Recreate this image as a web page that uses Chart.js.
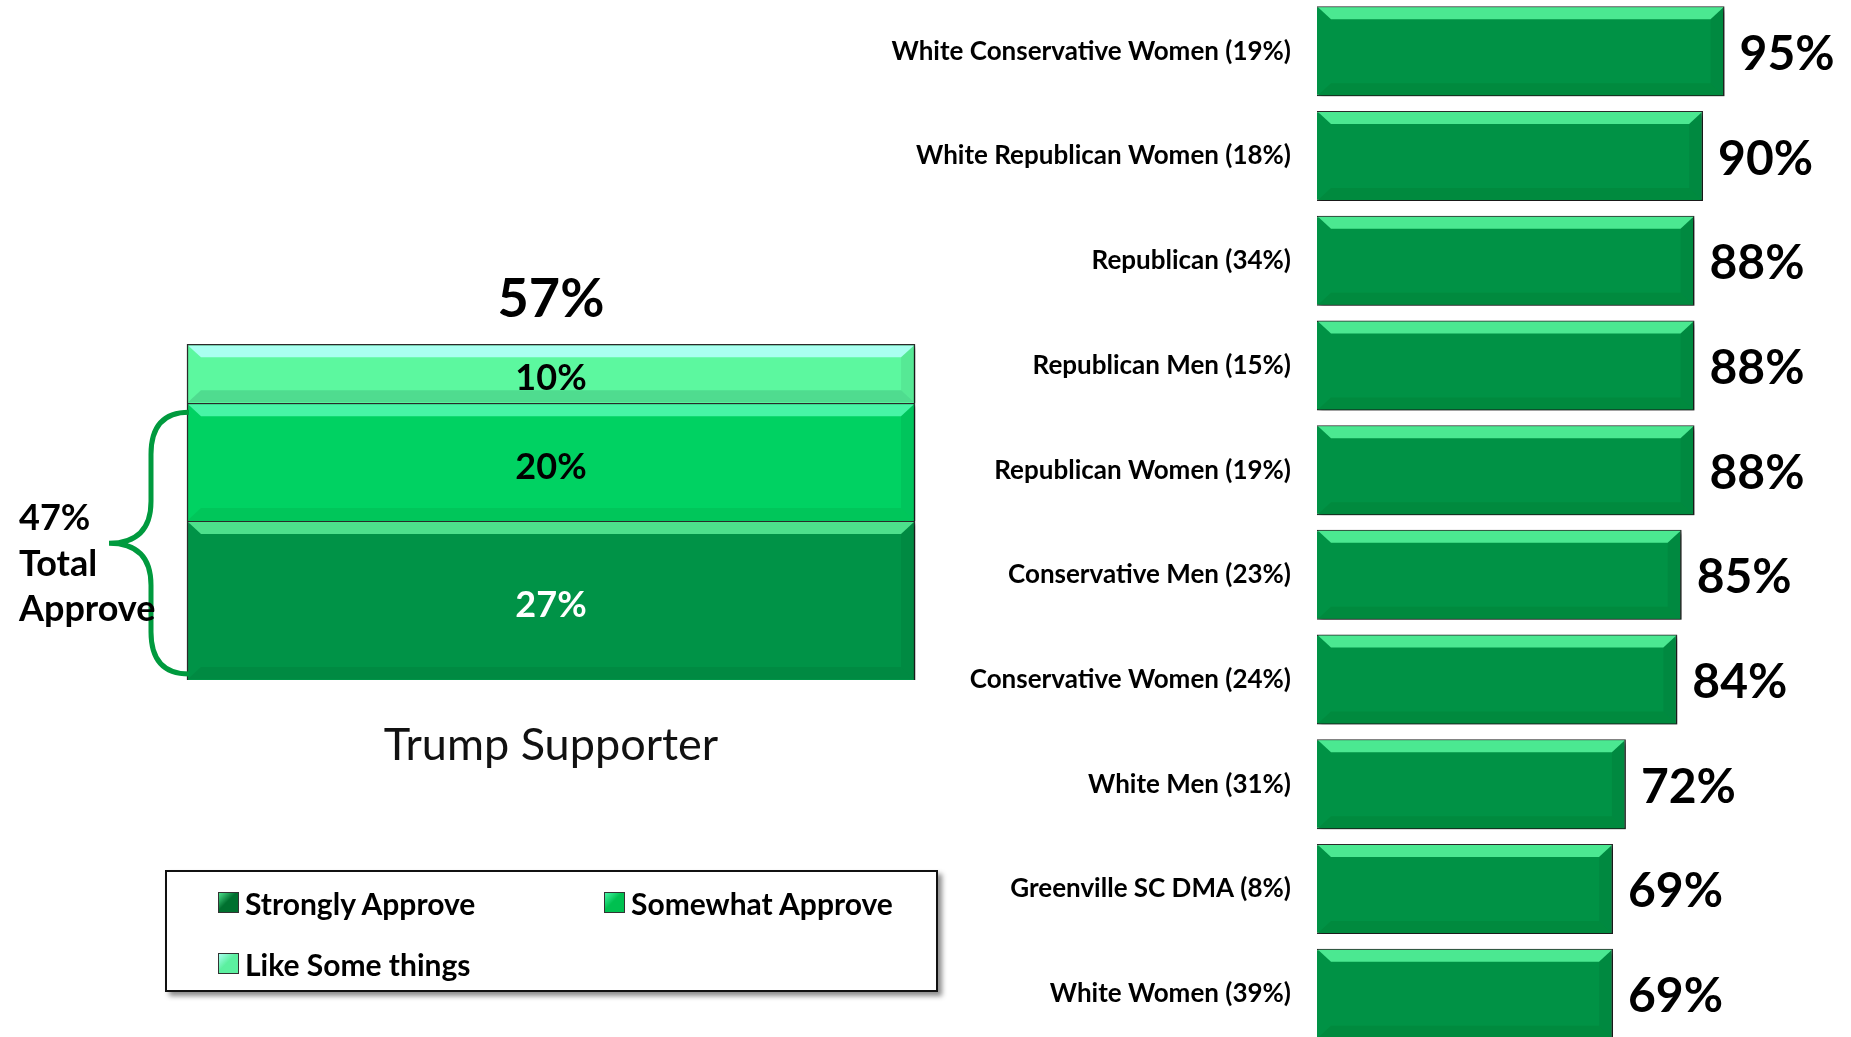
<!DOCTYPE html>
<html>
<head>
<meta charset="utf-8">
<title>Trump Supporter approval</title>
<script src="https://cdn.jsdelivr.net/npm/chart.js@4.4.1/dist/chart.umd.min.js"></script>
<style>
  html, body { margin: 0; padding: 0; width: 1851px; height: 1037px; overflow: hidden; background: #fff; font-family: Lato, sans-serif; }
  #leftWrap { position: absolute; left: 0; top: 209px; width: 950px; height: 601px; }
  #rightWrap { position: absolute; left: 817px; top: -1px; width: 1034px; height: 1047px; }
  #legend {
    position: absolute; left: 165px; top: 870px; width: 773px; height: 122px;
    border: 2px solid #111; box-sizing: border-box; background: #fff;
    box-shadow: 4px 4px 5px rgba(0,0,0,0.45);
    display: grid; grid-template-columns: 386px 340px; grid-auto-rows: 61px;
    padding-left: 51px; align-items: center;
  }
  .item { display: flex; align-items: center; font: bold 30px Lato, sans-serif; color: #000; }
  .box { width: 19px; height: 19px; border: 1px solid #333; margin-right: 6px; }
</style>
</head>
<body>
<div id="leftWrap"><canvas id="leftChart"></canvas></div>
<div id="rightWrap"><canvas id="rightChart"></canvas></div>
<div id="legend"></div>

<script>
// left: stacked bar for Trump supporters
const stackCategory = ['Trump Supporter'];
const stackSeries = ['Strongly Approve', 'Somewhat Approve', 'Like Some things'];
const strongly = [27];
const somewhat = [20];
const likeSome = [10];

// right: approval by group
const groups = [
  'White Conservative Women (19%)',
  'White Republican Women (18%)',
  'Republican (34%)',
  'Republican Men (15%)',
  'Republican Women (19%)',
  'Conservative Men (23%)',
  'Conservative Women (24%)',
  'White Men (31%)',
  'Greenville SC DMA (8%)',
  'White Women (39%)'
];
const groupValues = [95, 90, 88, 88, 88, 85, 84, 72, 69, 69];

const FONT = 'Lato, sans-serif';

function barRect(bar, horizontal) {
  const p = bar.getProps(['x', 'y', 'base', 'width', 'height'], true);
  if (horizontal) {
    return { l: Math.min(p.base, p.x), r: Math.max(p.base, p.x), t: p.y - p.height / 2, b: p.y + p.height / 2 };
  }
  return { l: p.x - p.width / 2, r: p.x + p.width / 2, t: Math.min(p.y, p.base), b: Math.max(p.y, p.base) };
}

// drop shadow + bevel strips on bars
const bevelPlugin = {
  id: 'bevel',
  beforeDatasetsDraw(chart) {
    const ctx = chart.ctx;
    ctx.save();
    ctx.shadowColor = 'rgba(0,0,0,0.45)';
    ctx.shadowOffsetX = 3;
    ctx.shadowOffsetY = 3;
    ctx.shadowBlur = 4;
  },
  afterDatasetsDraw(chart) {
    const ctx = chart.ctx;
    ctx.restore();
    const horizontal = chart.options.indexAxis === 'y';
    chart.data.datasets.forEach((ds, di) => {
      chart.getDatasetMeta(di).data.forEach(bar => {
        const { l, r, t, b } = barRect(bar, horizontal);
        const s = Math.min(13, (b - t) * 0.22);
        ctx.fillStyle = ds.bevelLight;
        ctx.beginPath();
        ctx.moveTo(l + 1, t + 1); ctx.lineTo(r - 1, t + 1);
        ctx.lineTo(r - 1 - s, t + s); ctx.lineTo(l + 1 + s, t + s);
        ctx.closePath(); ctx.fill();
        ctx.fillStyle = ds.bevelDark;
        ctx.beginPath();
        ctx.moveTo(l + 1, b - 1); ctx.lineTo(r - 1, b - 1);
        ctx.lineTo(r - 1 - s, b - s); ctx.lineTo(l + 1 + s, b - s);
        ctx.closePath(); ctx.fill();
        ctx.fillStyle = 'rgba(0,0,0,0.06)';
        ctx.beginPath();
        ctx.moveTo(r - 1, t + 1); ctx.lineTo(r - 1, b - 1);
        ctx.lineTo(r - 1 - s, b - s); ctx.lineTo(r - 1 - s, t + s);
        ctx.closePath(); ctx.fill();
      });
    });
  }
};

const stackLabels = {
  id: 'stackLabels',
  afterDatasetsDraw(chart) {
    const ctx = chart.ctx;
    const yScale = chart.scales.y;
    ctx.save();
    ctx.textAlign = 'center';
    ctx.textBaseline = 'middle';
    chart.data.datasets.forEach((ds, di) => {
      chart.getDatasetMeta(di).data.forEach((bar, i) => {
        const { l, r, t, b } = barRect(bar, false);
        ctx.fillStyle = ds.labelColor;
        ctx.font = 'bold 36px ' + FONT;
        ctx.fillText(ds.data[i] + '%', (l + r) / 2, (t + b) / 2 + 5);
      });
    });
    // total on top
    const total = strongly[0] + somewhat[0] + likeSome[0];
    const top = chart.getDatasetMeta(2).data[0];
    ctx.fillStyle = '#000';
    ctx.font = 'bold 54px ' + FONT;
    ctx.fillText(total + '%', top.x, yScale.getPixelForValue(total) - 45);

    // brace for total approve
    const approve = strongly[0] + somewhat[0];
    const yt = yScale.getPixelForValue(approve) + 9;
    const yb = yScale.getPixelForValue(0) - 6;
    const yc = (yt + yb) / 2;
    const xe = chart.chartArea.left + 2;
    const xm = xe - 38;
    const xt = xe - 80;
    const rr = 42;
    ctx.strokeStyle = '#009a3e';
    ctx.lineWidth = 5;
    ctx.beginPath();
    ctx.moveTo(xe, yt);
    ctx.quadraticCurveTo(xm, yt, xm, yt + rr);
    ctx.lineTo(xm, yc - rr);
    ctx.quadraticCurveTo(xm, yc, xt, yc);
    ctx.quadraticCurveTo(xm, yc, xm, yc + rr);
    ctx.lineTo(xm, yb - rr);
    ctx.quadraticCurveTo(xm, yb, xe, yb);
    ctx.stroke();

    ctx.fillStyle = '#000';
    ctx.textAlign = 'left';
    ctx.font = 'bold 36px ' + FONT;
    ctx.fillText(approve + '%', 19, yc - 25);
    ctx.fillText('Total', 19, yc + 21);
    ctx.fillText('Approve', 19, yc + 66);
    ctx.restore();
  }
};

const valueLabels = {
  id: 'valueLabels',
  afterDatasetsDraw(chart) {
    const ctx = chart.ctx;
    ctx.save();
    ctx.fillStyle = '#000';
    ctx.font = 'bold 48px ' + FONT;
    ctx.textAlign = 'left';
    ctx.textBaseline = 'middle';
    chart.getDatasetMeta(0).data.forEach((bar, i) => {
      const { r, t, b } = barRect(bar, true);
      ctx.fillText(groupValues[i] + '%', r + 15, (t + b) / 2 + 3);
    });
    ctx.restore();
  }
};

const htmlLegend = {
  id: 'htmlLegend',
  afterUpdate(chart) {
    const box = document.getElementById('legend');
    box.innerHTML = '';
    chart.data.datasets.forEach(ds => {
      const item = document.createElement('div');
      item.className = 'item';
      const sw = document.createElement('span');
      sw.className = 'box';
      sw.style.background = 'linear-gradient(135deg, ' + ds.bevelLight + ' 0%, ' + ds.legendColor + ' 45%, ' + ds.legendColor + ' 100%)';
      item.appendChild(sw);
      item.appendChild(document.createTextNode(ds.label));
      box.appendChild(item);
    });
  }
};

new Chart(document.getElementById('leftChart'), {
  type: 'bar',
  data: {
    labels: stackCategory,
    datasets: [
      { label: stackSeries[0], data: strongly, backgroundColor: '#009347', bevelLight: '#4de08c', bevelDark: '#008a42', legendColor: '#00702f', labelColor: '#fff' },
      { label: stackSeries[1], data: somewhat, backgroundColor: '#00d262', bevelLight: '#47f5a6', bevelDark: '#00c65a', legendColor: '#00c050', labelColor: '#000' },
      { label: stackSeries[2], data: likeSome, backgroundColor: '#5cf89f', bevelLight: '#a9fff0', bevelDark: '#4fdc8f', legendColor: '#5cf0a0', labelColor: '#000' }
    ]
  },
  options: {
    responsive: true,
    maintainAspectRatio: false,
    animation: false,
    layout: { padding: { left: 187, right: 35, top: 0, bottom: 0 } },
    datasets: { bar: { categoryPercentage: 1, barPercentage: 1, borderWidth: 1.5, borderColor: '#2b2b2b', clip: false } },
    scales: {
      x: {
        stacked: true,
        grid: { display: false, drawTicks: false },
        border: { display: false },
        ticks: { color: '#111', padding: 38, font: { family: FONT, size: 45 } }
      },
      y: { stacked: true, min: 0, max: 80, display: false }
    },
    plugins: { legend: { display: false }, tooltip: { enabled: false } }
  },
  plugins: [bevelPlugin, stackLabels, htmlLegend]
});

new Chart(document.getElementById('rightChart'), {
  type: 'bar',
  data: {
    labels: groups,
    datasets: [
      { label: 'Approve', data: groupValues, backgroundColor: '#009245', bevelLight: '#4be891', bevelDark: '#008a3e' }
    ]
  },
  options: {
    indexAxis: 'y',
    responsive: true,
    maintainAspectRatio: false,
    animation: false,
    layout: { padding: { left: 0, right: 105, top: 0, bottom: 0 } },
    datasets: { bar: { categoryPercentage: 1, barPercentage: 0.86, borderWidth: 1.5, borderColor: '#2b2b2b', clip: false } },
    scales: {
      x: { min: 0, max: 100, display: false },
      y: {
        grid: { display: false, drawTicks: false },
        border: { display: false },
        ticks: { color: '#000', padding: 26, font: { family: FONT, size: 26, weight: 'bold' } },
        afterFit(scale) {
          scale.width = 500;
          scale.paddingTop = 0;
          scale.paddingBottom = 0;
        }
      }
    },
    plugins: { legend: { display: false }, tooltip: { enabled: false } }
  },
  plugins: [bevelPlugin, valueLabels]
});
</script>
</body>
</html>
